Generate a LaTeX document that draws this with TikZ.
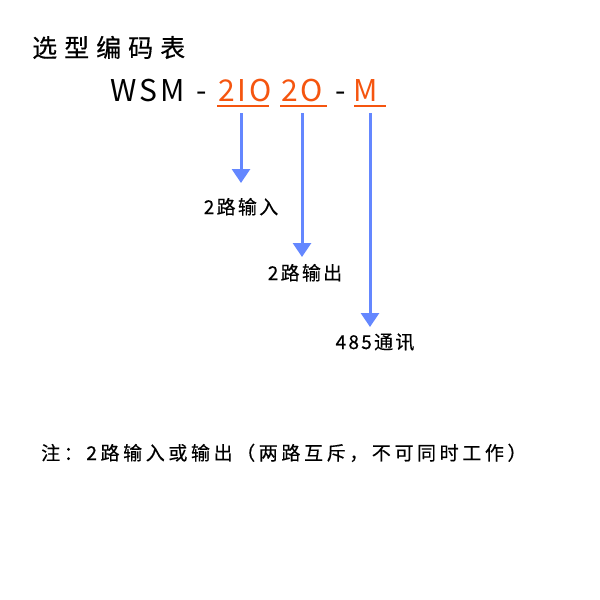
\documentclass[tikz,border=0pt]{standalone}
\usepackage{fontspec}
\setmainfont{Noto Sans CJK SC}
\usetikzlibrary{arrows.meta}
\definecolor{codeorange}{RGB}{245,85,15}
\definecolor{arrowblue}{RGB}{100,135,255}
\tikzset{
  txt/.style={inner sep=0pt, anchor=base west, text=black},
  code/.style={inner sep=0pt, anchor=base west, font=\fontsize{30}{32}\selectfont\addfontfeature{LetterSpace=10}},
  lbl/.style={inner sep=0pt, anchor=base, font=\fontsize{19}{22}\selectfont\addfontfeature{LetterSpace=12,FakeBold=0.4}},
  uline/.style={codeorange, line width=2.5pt},
  arr/.style={arrowblue, line width=3pt, -{Triangle[width=18pt,length=14pt]}}
}
\begin{document}
\begin{tikzpicture}[x=1pt,y=-1pt]
\useasboundingbox (0,0) rectangle (600,600);
\node[txt, font=\fontsize{25}{28}\selectfont\addfontfeature{LetterSpace=28,FakeBold=0.4}] (title) at (32,57) {选型编码表};
\node[code] (wsm) at (110,101) {WSM};
\node[code] (d1) at (196,101) {-};
\node[code, text=codeorange] (c1) at (218,101) {2IO};
\node[code, text=codeorange] (c2) at (281,101) {2O};
\node[code] (d2) at (335,101) {-};
\node[code, text=codeorange] (c3) at (353,101) {M};
\coordinate (u1a) at (217,106); \coordinate (u1b) at (269,106);
\coordinate (u2a) at (280,106); \coordinate (u2b) at (327,106);
\coordinate (u3a) at (354,106); \coordinate (u3b) at (386,106);
\draw[uline] (u1a) -- (u1b);
\draw[uline] (u2a) -- (u2b);
\draw[uline] (u3a) -- (u3b);
\coordinate (s1) at (241,113); \coordinate (t1) at (241,183);
\coordinate (s2) at (302,113); \coordinate (t2) at (302,257);
\coordinate (s3) at (370,113); \coordinate (t3) at (370,327);
\draw[arr] (s1) -- (t1);
\draw[arr] (s2) -- (t2);
\draw[arr] (s3) -- (t3);
\node[lbl] (l1) at (241,214) {2路输入};
\node[lbl] (l2) at (305,280) {2路输出};
\node[lbl] (l3) at (375,349) {485通讯};
\node[txt, font=\fontsize{19}{22}\selectfont\addfontfeature{LetterSpace=19,FakeBold=0.4}] (note) at (41,460) {注：2路输入或输出（两路互斥，不可同时工作）};
\end{tikzpicture}
\end{document}
